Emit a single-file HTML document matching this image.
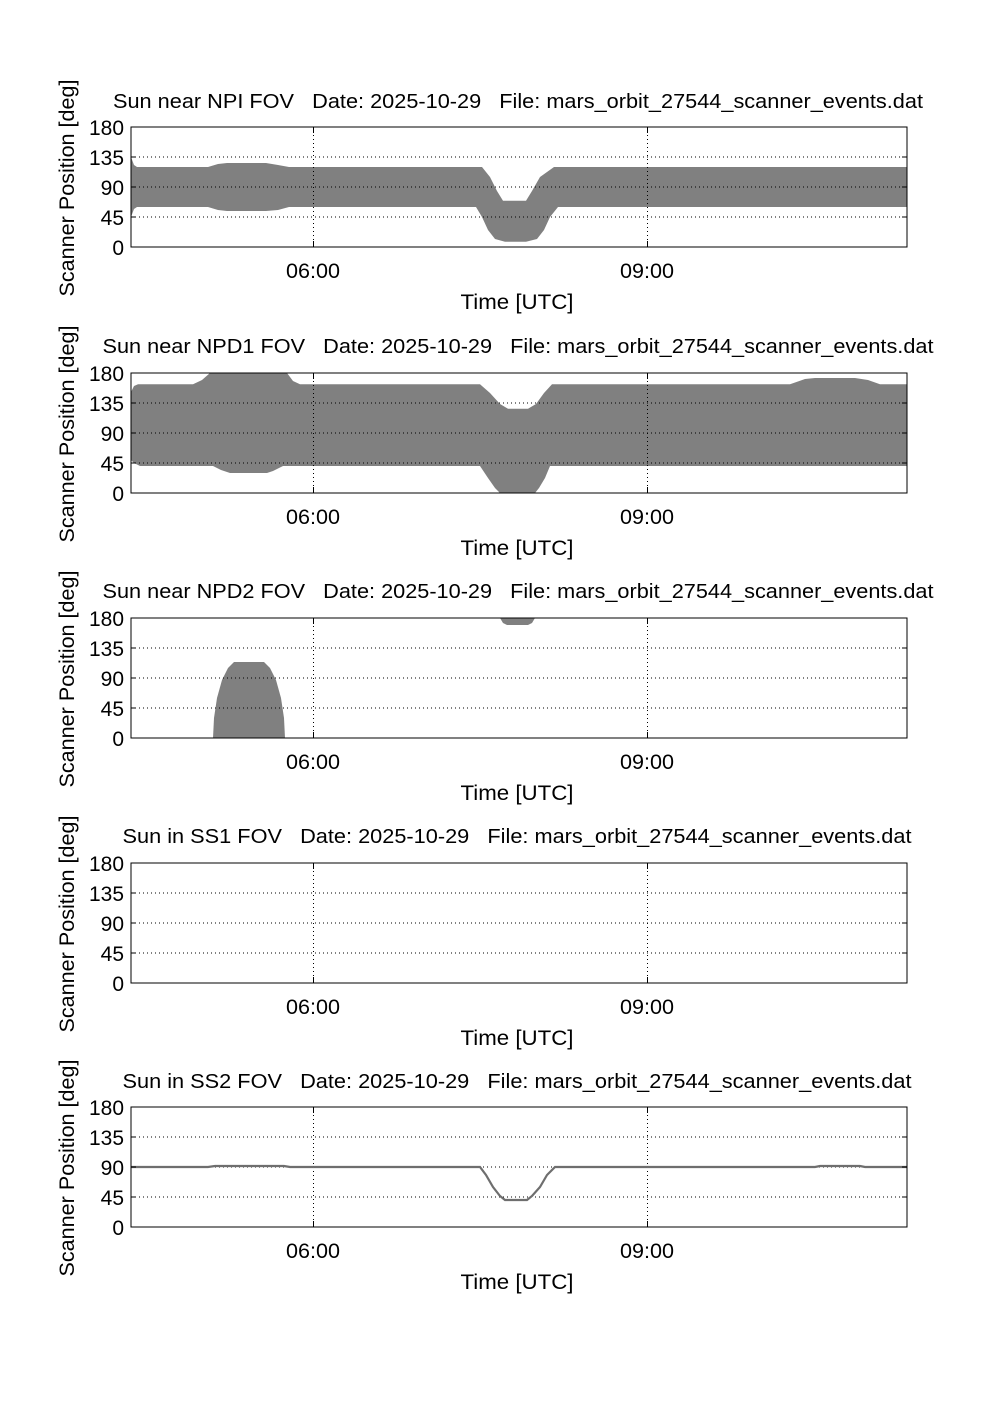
<!DOCTYPE html>
<html><head><meta charset="utf-8"><style>
html,body{margin:0;padding:0;background:#fff;}
svg{display:block;font-family:"Liberation Sans",Arial,sans-serif;}
</style></head><body>
<svg width="1002" height="1419" viewBox="0 0 1002 1419" xmlns="http://www.w3.org/2000/svg">
<defs>
<g id="axes">
  <rect x="131" y="0" width="776" height="120" fill="none" stroke="#000" stroke-width="1"/>
</g>
<g id="grid" stroke="#000" stroke-width="1" stroke-dasharray="1,3">
  <line x1="131" y1="30" x2="907" y2="30"/>
  <line x1="131" y1="60" x2="907" y2="60"/>
  <line x1="131" y1="90" x2="907" y2="90"/>
  <line x1="313.5" y1="0" x2="313.5" y2="120"/>
  <line x1="647.5" y1="0" x2="647.5" y2="120"/>
</g>
<g id="labels" font-size="21" fill="#000">
  <g text-anchor="end">
    <text x="124" y="8" textLength="35" lengthAdjust="spacingAndGlyphs">180</text>
    <text x="124" y="38" textLength="35" lengthAdjust="spacingAndGlyphs">135</text>
    <text x="124" y="68">90</text>
    <text x="124" y="98">45</text>
    <text x="124" y="128">0</text>
  </g>
  <g text-anchor="middle">
    <text x="313" y="151" textLength="54" lengthAdjust="spacingAndGlyphs">06:00</text>
    <text x="647" y="151" textLength="54" lengthAdjust="spacingAndGlyphs">09:00</text>
    <text x="517" y="182" textLength="113" lengthAdjust="spacingAndGlyphs">Time [UTC]</text>
  </g>
  <text transform="translate(74,61) rotate(-90)" text-anchor="middle" textLength="217" lengthAdjust="spacingAndGlyphs">Scanner Position [deg]</text>
  <g stroke="#000" stroke-width="1">
    <line x1="131" y1="0" x2="136" y2="0"/><line x1="131" y1="30" x2="136" y2="30"/>
    <line x1="131" y1="60" x2="136" y2="60"/><line x1="131" y1="90" x2="136" y2="90"/>
    <line x1="902" y1="30" x2="907" y2="30"/><line x1="902" y1="60" x2="907" y2="60"/>
    <line x1="902" y1="90" x2="907" y2="90"/>
    <line x1="313.5" y1="120" x2="313.5" y2="114"/><line x1="647.5" y1="120" x2="647.5" y2="114"/>
    <line x1="313.5" y1="0" x2="313.5" y2="6"/><line x1="647.5" y1="0" x2="647.5" y2="6"/>
  </g>
</g>
</defs>

<!-- Panel 1 -->
<g transform="translate(0,127)">
  <text x="518" y="-19" font-size="20" text-anchor="middle" xml:space="preserve" textLength="810" lengthAdjust="spacingAndGlyphs">Sun near NPI FOV   Date: 2025-10-29   File: mars_orbit_27544_scanner_events.dat</text>
  <polygon fill="#808080" points="131,30 134,38 137,40 208,40 218,37 227,36 266,36 278,38 289,40 482,40 490,50 497,64 503,73.7 526,73.7 532,64 540,50 554,40 907,40 907,80 558,80 550,90 544,103 537,112 526,114.7 505,114.7 495,112 488,103 482,90 476,80 289,80 278,83 266,84 227,84 218,83 208,80 137,80 134,82 131,90"/>
  <use href="#grid"/><use href="#axes"/><use href="#labels"/>
</g>

<!-- Panel 2 -->
<g transform="translate(0,373)">
  <text x="518" y="-20" font-size="20" text-anchor="middle" xml:space="preserve" textLength="831" lengthAdjust="spacingAndGlyphs">Sun near NPD1 FOV   Date: 2025-10-29   File: mars_orbit_27544_scanner_events.dat</text>
  <polygon fill="#808080" points="131,19 134,13 138,11.3 193,11.3 202,7 210,0 287,0 293,8 300,11.3 480,11.3 490,20 500,31 508,35.7 528,35.7 536,31 544,20 552,11.3 790,11.3 805,6 815,5 855,5 868,7 880,11.3 907,11.3 907,93 550,93 545,105 539,115 535,120 500,120 495,115 488,105 480,93 283,93 273,98 267,100 230,100 221,97 213,93 140,93 134,90 131,87"/>
  <use href="#grid"/><use href="#axes"/><use href="#labels"/>
</g>

<!-- Panel 3 -->
<g transform="translate(0,618)">
  <text x="518" y="-20" font-size="20" text-anchor="middle" xml:space="preserve" textLength="831" lengthAdjust="spacingAndGlyphs">Sun near NPD2 FOV   Date: 2025-10-29   File: mars_orbit_27544_scanner_events.dat</text>
  <polygon fill="#808080" points="213,120 214,100 217,80 222,62 228,50 234,44 264,44 270,50 276,62 281,80 284,100 285,120"/>
  <polygon fill="#808080" points="500,0 503,5 507,7 528,7 532,5 535,0"/>
  <use href="#grid"/><use href="#axes"/><use href="#labels"/>
</g>

<!-- Panel 4 -->
<g transform="translate(0,863)">
  <text x="517" y="-20" font-size="20" text-anchor="middle" xml:space="preserve" textLength="789" lengthAdjust="spacingAndGlyphs">Sun in SS1 FOV   Date: 2025-10-29   File: mars_orbit_27544_scanner_events.dat</text>
  <use href="#grid"/><use href="#axes"/><use href="#labels"/>
</g>

<!-- Panel 5 -->
<g transform="translate(0,1107)">
  <text x="517" y="-19" font-size="20" text-anchor="middle" xml:space="preserve" textLength="789" lengthAdjust="spacingAndGlyphs">Sun in SS2 FOV   Date: 2025-10-29   File: mars_orbit_27544_scanner_events.dat</text>
  <use href="#grid"/>
  <polyline fill="none" stroke="#6e6e6e" stroke-width="2.2" points="131,60 208,60 215,59 284,59 290,60 480,60 486,68 493,80 500,89 505,93 527,93 532,89 540,80 547,68 555,60 815,60 820,59 860,59 865,60 907,60"/>
  <use href="#axes"/><use href="#labels"/>
</g>
</svg>
</body></html>
